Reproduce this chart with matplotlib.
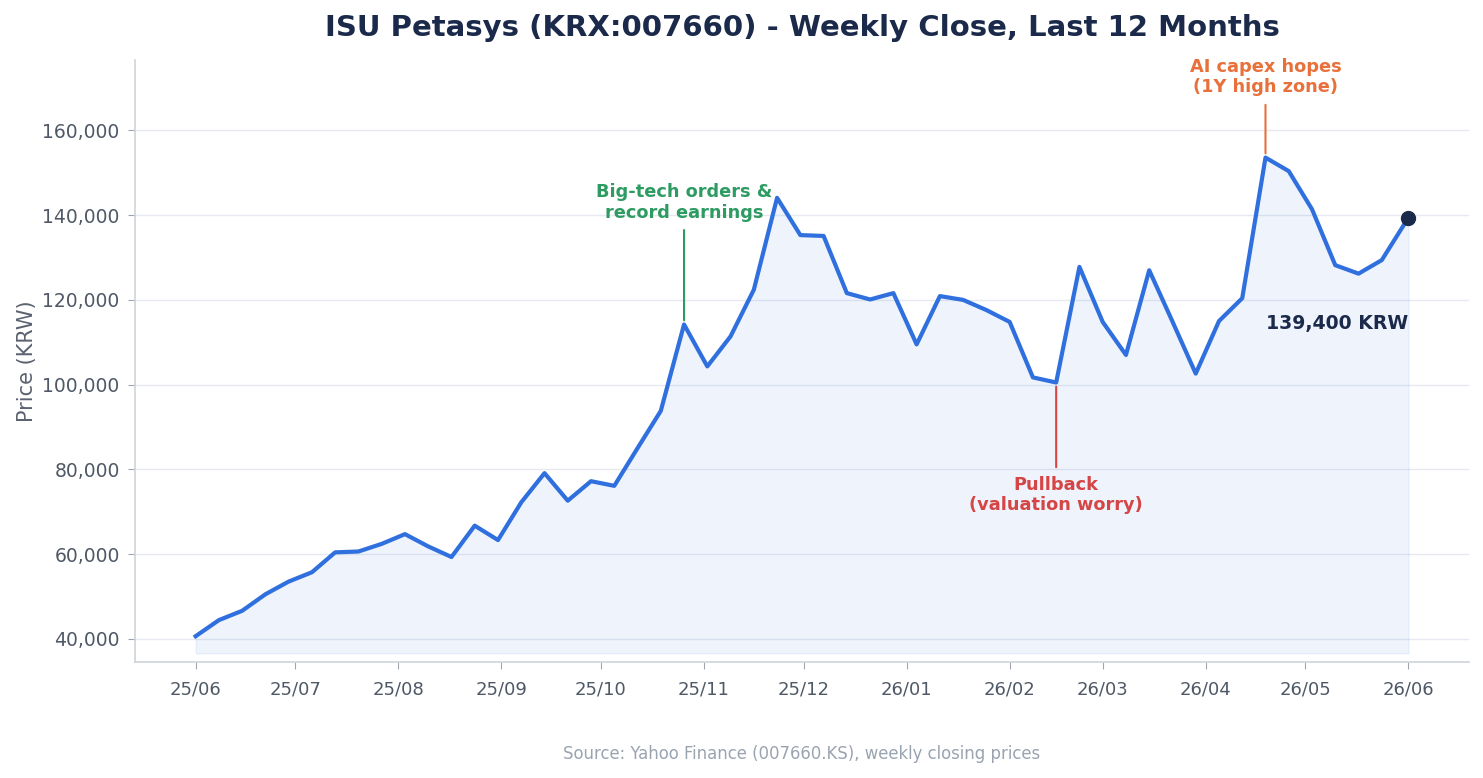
import matplotlib
matplotlib.use("Agg")
import matplotlib.pyplot as plt
import matplotlib.dates as mdates
import pandas as pd
import numpy as np

# ---- data ----
dates = list(pd.date_range("2025-06-01", periods=52, freq="7D")) + [pd.Timestamp("2026-06-01")]
prices = [40600, 44400, 46600, 50500, 53500, 55700, 60400, 60600, 62400, 64700,
          61800, 59300, 66700, 63300, 72200, 79100, 72600, 77200, 76100, 85000,
          93800, 114200, 104300, 111400, 122400, 144100, 135300, 135100, 121600, 120100,
          121600, 109500, 120900, 120000, 117600, 114800, 101700, 100500, 127800, 114800,
          107000, 127000, 114900, 102600, 115000, 120400, 153600, 150400, 141400, 128200,
          126200, 129400, 139400]

title = "ISU Petasys (KRX:007660) - Weekly Close, Last 12 Months"
ylabel = "Price (KRW)"
source = "Source: Yahoo Finance (007660.KS), weekly closing prices"

ann_dates = ["2025-10-26", "2026-04-19", "2026-02-15"]
ann_texts = ["Big-tech orders &\nrecord earnings", "AI capex hopes\n(1Y high zone)", "Pullback\n(valuation worry)"]
ann_colors = ["#2e9b63", "#e8703a", "#d64545"]

LINE = "#2f6fde"
NAVY = "#1b2a4a"

fig = plt.figure(figsize=(14.83, 7.78), dpi=100)
ax = fig.add_axes([135/1483, 1-662/778, (1469-135)/1483, (662-60)/778])

x = pd.to_datetime(dates)
p = np.array(prices, dtype=float)
base = p.min() * 0.9
ax.fill_between(x, p, base, color=LINE, alpha=0.08)
ax.plot(x, p, color=LINE, lw=3, zorder=3)
ax.plot(x[-1], p[-1], "o", color=NAVY, ms=10, zorder=4)

ax.set_ylim(p.min() * 0.85, p.max() * 1.15)

ax.xaxis.set_major_locator(mdates.MonthLocator())
ax.xaxis.set_major_formatter(mdates.DateFormatter("%y/%m"))
ax.yaxis.set_major_formatter(matplotlib.ticker.FuncFormatter(lambda v, _: f"{v:,.0f}"))

ax.grid(axis="y", color="#e6eaf0", lw=1)
ax.set_axisbelow(True)
for s in ["top", "right"]:
    ax.spines[s].set_visible(False)
for s in ["left", "bottom"]:
    ax.spines[s].set_color("#cfd4da")
    ax.spines[s].set_linewidth(1.2)
ax.tick_params(axis="both", colors="#a0a6ae", labelcolor="#4f5866", length=5)
ax.tick_params(axis="x", pad=8, labelsize=13)
ax.tick_params(axis="y", pad=6, labelsize=13.5)

ax.set_ylabel(ylabel, fontsize=15, color="#5a6270", labelpad=4)
ax.set_title(title, fontsize=21, fontweight="bold", color=NAVY, pad=17)

offsets = [(0, 74), (0, 44), (0, -67)]
for d, t, c, off in zip(ann_dates, ann_texts, ann_colors, offsets):
    dt = pd.Timestamp(d)
    val = p[list(x).index(dt)]
    ax.annotate(t, xy=(dt, val), xytext=off, textcoords="offset points",
                ha="center", va="bottom" if off[1] > 0 else "top",
                fontsize=12.8, fontweight="bold", color=c,
                arrowprops=dict(arrowstyle="-", color=c, lw=1.5, shrinkA=4, shrinkB=3))

ax.annotate(f"{prices[-1]:,} KRW", xy=(x[-1], p[-1]), xytext=(0, -76.5), textcoords="offset points",
            ha="right", va="center", fontsize=13.6, fontweight="bold", color=NAVY)

fig.text(802/1483, 1-754/778, source, ha="center", va="center", fontsize=11.9, color="#9aa3b0")

fig.savefig("out.png", dpi=100)
